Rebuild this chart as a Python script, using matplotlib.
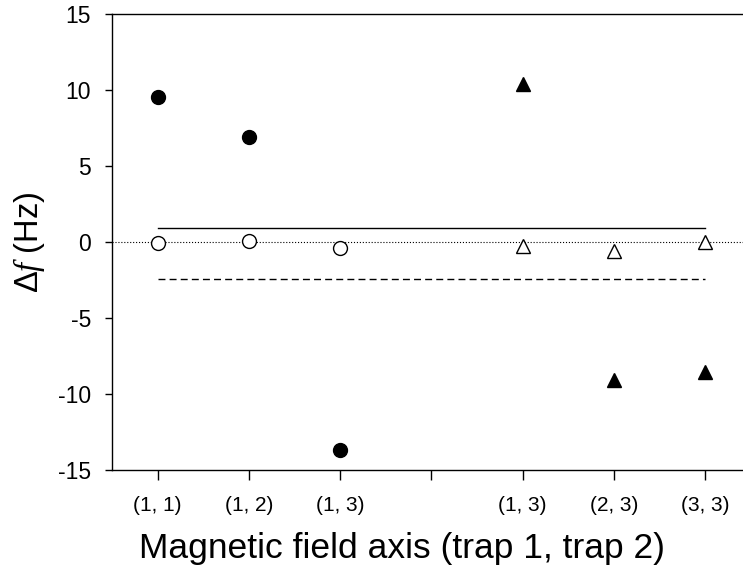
import matplotlib.pyplot as plt
import numpy as np

plt.rcParams['font.family'] = ['Liberation Sans', 'DejaVu Sans']
plt.rcParams['mathtext.fontset'] = 'custom'
plt.rcParams['mathtext.rm'] = 'Liberation Sans'
plt.rcParams['mathtext.it'] = 'Liberation Serif:italic'

# data
tick_pos = [1, 2, 3, 4, 5, 6, 7]
tick_labels = ['(1, 1)', '(1, 2)', '(1, 3)', '', '(1, 3)', '(2, 3)', '(3, 3)']

circ_x = [1, 2, 3]
circ_filled = [9.55, 6.9, -13.68]
circ_open = [-0.09, 0.09, -0.37]

tri_x = [5, 6, 7]
tri_filled = [10.4, -9.08, -8.55]
tri_open = [-0.28, -0.58, 0.02]

line_x = [1, 7]
solid_level = 0.9
dashed_level = -2.45

fig = plt.figure(figsize=(7.43, 5.70), dpi=100)
ax = fig.add_axes([0.1507, 0.1754, 0.855, 0.80])

ax.axhline(0, color='black', linestyle=':', linewidth=0.8, zorder=1)
ax.plot(line_x, [solid_level, solid_level], color='black', linewidth=1.0, zorder=1)
ax.plot(line_x, [dashed_level, dashed_level], color='black', linestyle=(0, (5, 3)),
        linewidth=1.0, zorder=1)

ax.plot(circ_x, circ_filled, 'o', color='black', markersize=10, linestyle='none', zorder=3)
ax.plot(circ_x, circ_open, 'o', markerfacecolor='white', markeredgecolor='black',
        markeredgewidth=1.0, markersize=10, linestyle='none', zorder=3)
ax.plot(tri_x, tri_filled, '^', color='black', markersize=10, linestyle='none', zorder=3)
ax.plot(tri_x, tri_open, '^', markerfacecolor='white', markeredgecolor='black',
        markeredgewidth=1.0, markersize=10, linestyle='none', zorder=3)

ax.set_xlim(0.5, 7.46)
ax.set_ylim(-15, 15)
ax.set_xticks(tick_pos)
ax.set_xticklabels(tick_labels, fontsize=15)
ax.set_yticks([-15, -10, -5, 0, 5, 10, 15])
ax.set_yticklabels(['-15', '-10', '-5', '0', '5', '10', '15'], fontsize=16.5)
ax.tick_params(axis='x', direction='out', length=7, width=1, pad=12)
ax.tick_params(axis='y', direction='out', length=5, width=1, pad=10)

ax.spines['right'].set_visible(False)
for s in ['left', 'bottom', 'top']:
    ax.spines[s].set_linewidth(1.0)

ax.set_xlabel('Magnetic field axis (trap 1, trap 2)', fontsize=25.5)
ax.xaxis.set_label_coords(0.457, -0.135)
ax.set_ylabel(r'$\Delta\mathit{f}$ (Hz)', fontsize=23.5, labelpad=8)

fig.savefig('out.png', dpi=100)
